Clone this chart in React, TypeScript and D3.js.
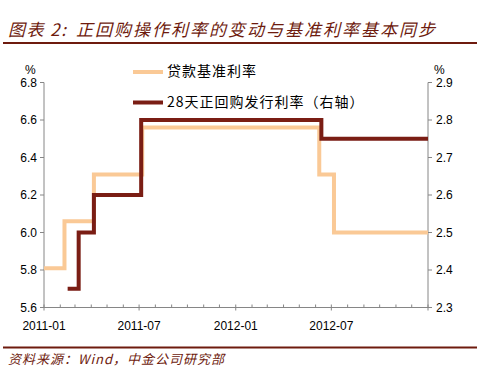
import React from "react";
import * as d3 from "d3";

const loanDates = ["2011-01-01", "2011-02-09", "2011-04-06", "2011-07-07", "2012-06-08", "2012-07-06", "2013-01-01"];
const loanRates = [5.81, 6.06, 6.31, 6.56, 6.31, 6.0, 6.0];

const repoDates = ["2011-02-15", "2011-03-08", "2011-04-06", "2011-07-05", "2012-06-12", "2013-01-01"];
const repoRates = [2.35, 2.5, 2.6, 2.8, 2.75, 2.75];

const leftTicks = [5.6, 5.8, 6.0, 6.2, 6.4, 6.6, 6.8];
const rightTicks = [2.3, 2.4, 2.5, 2.6, 2.7, 2.8, 2.9];
const xLabels = ["2011-01", "2011-07", "2012-01", "2012-07"];

const titleHead = "图表 2:";
const titleMain = "正回购操作利率的变动与基准利率基本同步";
const source = "资料来源：Wind，中金公司研究部";
const legendNames = ["贷款基准利率", "28天正回购发行利率（右轴）"];

const LIGHT = "#FAC996";
const DARK = "#7A1D14";
const BRAND = "#6E1B0E";
const AXIS = "#868686";

export default function App() {
  const parse = d3.timeParse("%Y-%m-%d");
  const parseM = d3.timeParse("%Y-%m");
  const x = d3.scaleTime().domain([parse("2011-01-01")!, parse("2013-01-01")!]).range([44, 428]);
  const yL = d3.scaleLinear().domain([5.6, 6.8]).range([307.5, 82.5]);
  const yR = d3.scaleLinear().domain([2.3, 2.9]).range([307.5, 82.5]);

  const loanData = loanDates.map((d, i) => ({ d: parse(d)!, v: loanRates[i] }));
  const repoData = repoDates.map((d, i) => ({ d: parse(d)!, v: repoRates[i] }));

  const loanLine = d3.line<{ d: Date; v: number }>().x((p) => x(p.d)).y((p) => yL(p.v)).curve(d3.curveStepAfter);
  const repoLine = d3.line<{ d: Date; v: number }>().x((p) => x(p.d)).y((p) => yR(p.v)).curve(d3.curveStepAfter);

  const months = d3.timeMonth.range(parse("2011-01-01")!, d3.timeDay.offset(parse("2013-01-01")!, 1));
  const axisY = 307.5;
  const xL = 44;
  const xRr = 428;

  const cjk = "'Noto Sans CJK SC', sans-serif";
  const num = "'Liberation Sans', Arial, sans-serif";

  return (
    <svg width={499} height={380} style={{ position: "absolute", left: 0, top: 0, background: "#fff" }}>
      {/* title */}
      <text x={8} y={36} fontFamily={cjk} fontSize={17} fontStyle="italic" fill={BRAND} letterSpacing={1.5} xmlSpace="preserve">
        {titleHead}
      </text>
      <text x={76} y={36} fontFamily={cjk} fontSize={17} fontStyle="italic" fill={BRAND} letterSpacing={2}>
        {titleMain}
      </text>
      <line x1={3} x2={477} y1={43} y2={43} stroke={BRAND} strokeWidth={2} />

      {/* left axis */}
      <line x1={xL} x2={xL} y1={82.5} y2={axisY} stroke={AXIS} strokeWidth={1} />
      {leftTicks.map((t) => (
        <g key={"l" + t}>
          <line x1={xL - 4} x2={xL} y1={yL(t)} y2={yL(t)} stroke={AXIS} />
          <text x={37} y={yL(t) + 4} textAnchor="end" fontFamily={num} fontSize={12} fill="#000">
            {d3.format(".1f")(t)}
          </text>
        </g>
      ))}
      <text x={25} y={74} fontFamily={num} fontSize={12} fill="#000">%</text>

      {/* right axis */}
      <line x1={xRr} x2={xRr} y1={82.5} y2={axisY} stroke={AXIS} strokeWidth={1} />
      {rightTicks.map((t) => (
        <g key={"r" + t}>
          <line x1={xRr} x2={xRr + 4} y1={yR(t)} y2={yR(t)} stroke={AXIS} />
          <text x={436} y={yR(t) + 4} textAnchor="start" fontFamily={num} fontSize={12} fill="#000">
            {d3.format(".1f")(t)}
          </text>
        </g>
      ))}
      <text x={434} y={74} fontFamily={num} fontSize={12} fill="#000">%</text>

      {/* x axis */}
      <line x1={xL} x2={xRr} y1={axisY} y2={axisY} stroke={AXIS} strokeWidth={1} />
      {months.map((m, i) => {
        const major = m.getMonth() % 6 === 0;
        return (
          <line
            key={"m" + i}
            x1={x(m)}
            x2={x(m)}
            y1={axisY - 3}
            y2={major ? axisY + 3 : axisY}
            stroke={AXIS}
          />
        );
      })}
      {xLabels.map((l) => (
        <text key={l} x={x(parseM(l)!)} y={330} textAnchor="middle" fontFamily={num} fontSize={12} fill="#000">
          {l}
        </text>
      ))}

      {/* series */}
      <path d={loanLine(loanData)!} fill="none" stroke={LIGHT} strokeWidth={4} strokeLinejoin="miter" />
      <path d={repoLine(repoData)!} fill="none" stroke={DARK} strokeWidth={4} strokeLinejoin="miter" />

      {/* legend */}
      <line x1={133} x2={163} y1={72} y2={72} stroke={LIGHT} strokeWidth={4} />
      <text x={167} y={76} fontFamily={cjk} fontSize={14} letterSpacing={1} fill="#000">{legendNames[0]}</text>
      <line x1={133} x2={163} y1={102.5} y2={102.5} stroke={DARK} strokeWidth={4} />
      <text x={167} y={107} fontFamily={cjk} fontSize={14} letterSpacing={1} fill="#000">{legendNames[1]}</text>

      {/* footer */}
      <line x1={3} x2={477} y1={347.5} y2={347.5} stroke={BRAND} strokeWidth={2} />
      <text x={8} y={364} fontFamily={cjk} fontSize={13} fontStyle="italic" letterSpacing={1} fill={BRAND}>
        {source}
      </text>
    </svg>
  );
}
